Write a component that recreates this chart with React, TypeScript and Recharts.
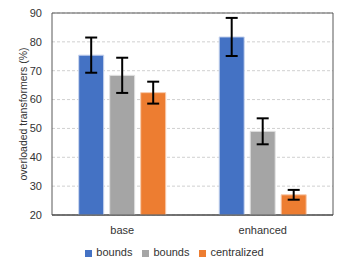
import React from "react";
import {
  BarChart,
  Bar,
  XAxis,
  YAxis,
  CartesianGrid,
  Legend,
  ErrorBar,
  ReferenceArea,
} from "recharts";

const categories = ["base", "enhanced"];
const boundsA = [75.4, 81.7];
const boundsAErr = [6.1, 6.6];
const boundsB = [68.4, 49.0];
const boundsBErr = [6.1, 4.5];
const centralized = [62.4, 27.0];
const centralizedErr = [3.8, 1.7];
const yTicks = [20, 30, 40, 50, 60, 70, 80, 90];

const data = categories.map((c, i) => ({
  name: c,
  a: boundsA[i],
  aErr: boundsAErr[i],
  b: boundsB[i],
  bErr: boundsBErr[i],
  c: centralized[i],
  cErr: centralizedErr[i],
}));

const FONT = "'Liberation Sans', Arial, sans-serif";

export default function App() {
  return (
    <div style={{ position: "absolute", left: 0, top: 0 }}>
      <BarChart
        width={345}
        height={269}
        data={data}
        margin={{ top: 13, right: 12, left: 0, bottom: 0 }}
        barCategoryGap="19%"
        barGap={6}
        style={{ fontFamily: FONT }}
      >
        <CartesianGrid
          vertical={false}
          stroke="#d0d0d0"
          strokeDasharray="3 2"
        />
        <XAxis
          dataKey="name"
          height={26}
          tickLine={false}
          tickMargin={5}
          axisLine={{ stroke: "#404040", strokeWidth: 1 }}
          tick={{ fill: "#333", fontSize: 11 }}
        />
        <YAxis
          width={52}
          domain={[20, 90]}
          ticks={yTicks}
          allowDataOverflow
          tickLine={false}
          axisLine={false}
          tickMargin={4}
          tick={{ fill: "#333", fontSize: 11 }}
          label={{
            value: "overloaded transformers (%)",
            angle: -90,
            position: "insideLeft",
            offset: 0,
            dx: 23,
            style: { textAnchor: "middle", fill: "#333", fontSize: 10.5 },
          }}
        />
        <ReferenceArea
          y1={20}
          y2={90}
          fill="none"
          stroke="#595959"
          strokeWidth={1}
          ifOverflow="visible"
        />
        <Legend
          verticalAlign="bottom"
          height={23}
          iconType="square"
          iconSize={7}
          wrapperStyle={{ fontSize: 11, paddingTop: 5, paddingLeft: 13 }}
          formatter={(value: string) => (
            <span style={{ color: "#333" }}>{value}</span>
          )}
        />
        <Bar
          dataKey="a"
          name="bounds"
          fill="#4472C4"
          stroke="#c9d5ee"
          strokeWidth={1}
          isAnimationActive={false}
        >
          <ErrorBar dataKey="aErr" width={6} stroke="#000" strokeWidth={2} />
        </Bar>
        <Bar
          dataKey="b"
          name="bounds"
          fill="#A5A5A5"
          stroke="#e2e2e2"
          strokeWidth={1}
          isAnimationActive={false}
        >
          <ErrorBar dataKey="bErr" width={6} stroke="#000" strokeWidth={2} />
        </Bar>
        <Bar
          dataKey="c"
          name="centralized"
          fill="#ED7D31"
          stroke="#f7c9aa"
          strokeWidth={1}
          isAnimationActive={false}
        >
          <ErrorBar dataKey="cErr" width={6} stroke="#000" strokeWidth={2} />
        </Bar>
      </BarChart>
    </div>
  );
}
